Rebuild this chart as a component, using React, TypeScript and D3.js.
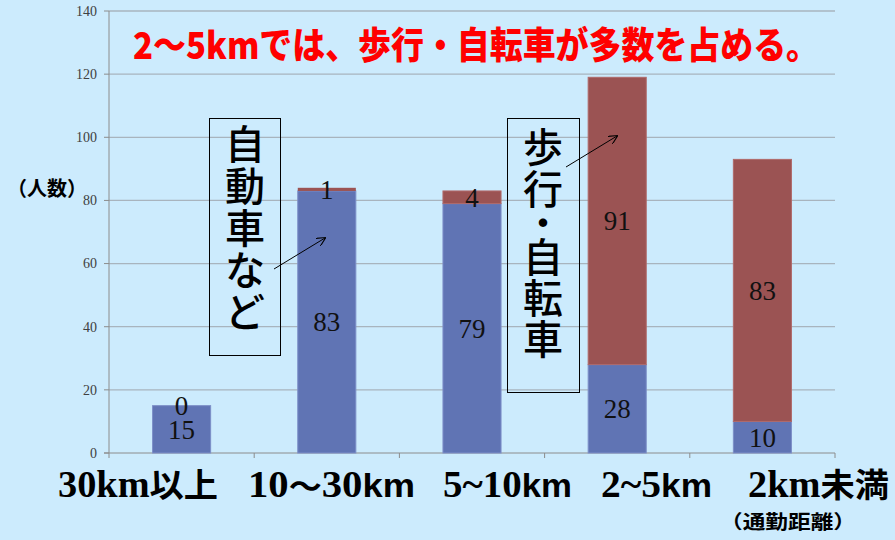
import React from "react";
import * as d3 from "d3";

const categories = ["30km以上", "10～30km", "5~10km", "2~5km", "2km未満"];
const carValues = [15, 83, 79, 28, 10];
const walkBikeValues = [0, 1, 4, 91, 83];
const yTicks = [0, 20, 40, 60, 80, 100, 120, 140];
const titleText = "2～5kmでは、歩行・自転車が多数を占める。";
const yAxisLabel = "（人数）";
const xAxisNote = "（通勤距離）";
const carNote = ["自", "動", "車", "な", "ど"];
const walkNote = ["歩", "行", "・", "自", "転", "車"];

const W = 895;
const H = 540;
const BG = "#CCEBFD";
const BLUE = "#6074B4";
const RED = "#9B5353";

const x = d3.scaleBand<string>().domain(categories).range([109, 835]).paddingInner(0.6).paddingOuter(0.3);
const y = d3.scaleLinear().domain([0, 140]).range([453, 11]);

const serif = "'Liberation Serif', 'Times New Roman', serif";
const sans = "'Liberation Sans', Arial, sans-serif";
const jp = "'Noto Sans CJK JP', sans-serif";

export default function App() {
  const stack = categories.map((c, i) => ({
    c,
    car: carValues[i],
    walk: walkBikeValues[i],
  }));
  const bw = x.bandwidth();
  const walkY = [148, 190, 223, 258, 299, 340];
  return (
    <svg width={W} height={H} style={{ position: "absolute", left: 0, top: 0, display: "block" }}>
      <defs>
        <marker id="arr" viewBox="0 0 10 10" refX="9" refY="5" markerWidth="9" markerHeight="9" orient="auto" markerUnits="userSpaceOnUse">
          <path d="M0,0 L10,5 L0,10" fill="none" stroke="#000" strokeWidth={1.2} />
        </marker>
      </defs>
      <rect x={0} y={0} width={W} height={H} fill={BG} />
      {yTicks.map((t) => (
        <g key={t}>
          {t > 0 && <line x1={109} x2={835} y1={y(t)} y2={y(t)} stroke="#A8B4BE" strokeWidth={1.3} />}
          <line x1={104} x2={109} y1={y(t)} y2={y(t)} stroke="#8C8C8C" strokeWidth={1} />
          <text x={97} y={y(t)} dy="0.35em" textAnchor="end" fontFamily={serif} fontSize={14} fill="#404040">
            {t}
          </text>
        </g>
      ))}
      <line x1={109} x2={109} y1={y(140)} y2={y(0)} stroke="#8C8C8C" strokeWidth={1} />
      <line x1={104} x2={835} y1={y(0)} y2={y(0)} stroke="#8C8C8C" strokeWidth={1} />
      {[...categories.map((c) => (x(c) as number) - (x.step() - bw) / 2), 835].map((v, i) => (
        <line key={i} x1={v} x2={v} y1={y(0)} y2={y(0) + 5} stroke="#8C8C8C" strokeWidth={1} />
      ))}
      {stack.map((d) => {
        const x0 = x(d.c) as number;
        return (
          <g key={d.c}>
            <rect x={x0} y={y(d.car)} width={bw} height={y(0) - y(d.car)} fill={BLUE} stroke="#7D8FC8" strokeWidth={1} />
            {d.walk > 0 && (
              <rect x={x0} y={y(d.car + d.walk)} width={bw} height={y(d.car) - y(d.car + d.walk)} fill={RED} stroke="#B06A6A" strokeWidth={d.walk > 2 ? 1 : 0} />
            )}
            <text x={x0 + bw / 2} y={y(d.car / 2)} dy="0.35em" textAnchor="middle" fontFamily={serif} fontSize={27} fill="#111">
              {d.car}
            </text>
            <text x={x0 + bw / 2} y={y(d.car + d.walk / 2)} dy="0.35em" textAnchor="middle" fontFamily={serif} fontSize={27} fill="#111">
              {d.walk}
            </text>
          </g>
        );
      })}
      <text x={133} y={59} fontFamily={jp} fontWeight={900} fontSize={37} fill="#FF0000" textLength={686} lengthAdjust="spacingAndGlyphs">
        {titleText}
      </text>
      <text x={7} y={196} fontFamily={jp} fontWeight={700} fontSize={20} fill="#000" textLength={80} lengthAdjust="spacingAndGlyphs">
        {yAxisLabel}
      </text>
      <g fontWeight={700} fontSize={37} fill="#000">
        <text x={58} y={497} textLength={160} lengthAdjust="spacingAndGlyphs">
          <tspan fontFamily={serif}>30km</tspan>
          <tspan fontFamily={jp} fontSize={33}>以上</tspan>
        </text>
        <text x={248} y={497} textLength={167} lengthAdjust="spacingAndGlyphs">
          <tspan fontFamily={serif}>10</tspan>
          <tspan fontFamily={jp} fontSize={30}>～</tspan>
          <tspan fontFamily={serif}>30</tspan>
          <tspan fontFamily={sans} fontSize={33}>km</tspan>
        </text>
        <text x={443} y={497} textLength={129} lengthAdjust="spacingAndGlyphs">
          <tspan fontFamily={serif}>5~10</tspan>
          <tspan fontFamily={sans} fontSize={33}>km</tspan>
        </text>
        <text x={601} y={497} textLength={111} lengthAdjust="spacingAndGlyphs">
          <tspan fontFamily={serif}>2~5</tspan>
          <tspan fontFamily={sans} fontSize={33}>km</tspan>
        </text>
        <text x={748} y={497} textLength={141} lengthAdjust="spacingAndGlyphs">
          <tspan fontFamily={serif}>2km</tspan>
          <tspan fontFamily={jp} fontSize={33}>未満</tspan>
        </text>
      </g>
      <text x={720} y={529} fontFamily={jp} fontWeight={700} fontSize={19} fill="#000" textLength={136} lengthAdjust="spacingAndGlyphs">
        {xAxisNote}
      </text>
      <rect x={209.5} y={118.5} width={71} height={237} fill="none" stroke="#000" strokeWidth={1} />
      <text textAnchor="middle" fontFamily={jp} fontWeight={500} fontSize={40} fill="#000">
        {carNote.map((ch, i) => (
          <tspan key={i} x={245} y={145 + i * 42 + 14.4}>
            {ch}
          </tspan>
        ))}
      </text>
      <rect x={507.5} y={118.5} width={72} height={274} fill="none" stroke="#000" strokeWidth={1} />
      <text textAnchor="middle" fontFamily={jp} fontWeight={500} fontSize={40} fill="#000">
        {walkNote.map((ch, i) => (
          <tspan
            key={i}
            x={543}
            y={walkY[i] + (ch === "・" ? 10.8 : 14.4)}
            fontWeight={ch === "・" ? 900 : 500}
            fontSize={ch === "・" ? 30 : 40}
          >
            {ch}
          </tspan>
        ))}
      </text>
      <line x1={274} y1={269} x2={325} y2={238} stroke="#000" strokeWidth={1} markerEnd="url(#arr)" />
      <line x1={566} y1={167} x2={617} y2={136} stroke="#000" strokeWidth={1} markerEnd="url(#arr)" />
    </svg>
  );
}
